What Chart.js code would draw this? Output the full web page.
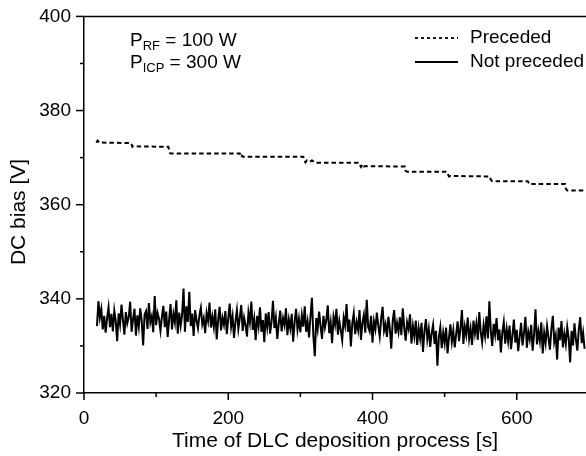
<!DOCTYPE html>
<html>
<head>
<meta charset="utf-8">
<script src="https://cdn.jsdelivr.net/npm/chart.js@4.4.1/dist/chart.umd.min.js"></script>
<style>
  body { margin: 0; background: #fff; }
  #wrap { width: 586px; height: 456px; }
</style>
</head>
<body>
<div id="wrap"><canvas id="grafico" width="586" height="456"></canvas></div>
<script>
// "Preceded" series: stepwise drift of the bias (time [s], bias [V])
const precededTime = [17, 19, 21, 65, 66, 67, 68, 117, 118, 119, 120, 216, 217, 218, 219, 220,
  304, 305, 307, 309, 313, 316, 320, 322, 381, 382, 384, 386, 388, 390, 445, 446, 448,
  503, 504, 506, 508, 563, 564, 566, 615, 616, 618, 620, 667, 668, 670, 696];
const precededBias = [373.2, 373.6, 373.2, 373.1, 372.8, 372.3, 372.4, 372.3, 371.6, 371.0, 370.9, 370.9, 370.5, 370.1, 370.4, 370.2,
  370.2, 369.6, 369.0, 369.4, 369.1, 369.4, 369.0, 368.9, 368.9, 368.5, 368.0, 368.6, 368.1, 368.2, 368.1, 367.2, 367.0,
  367.0, 366.6, 366.0, 366.1, 366.0, 365.3, 365.0, 365.0, 364.8, 364.3, 364.4, 364.4, 363.4, 363.0, 363.0];

// "Not preceded" series: one reading every 2 s starting at 18 s
const notPrecededStart = 18;
const notPrecededStep = 2;
const notPrecededBias = [
  334.2, 339.5, 336.0, 337.8, 333.5, 336.4, 332.8, 335.9, 338.2, 334.0,
  336.8, 333.1, 337.5, 335.2, 331.0, 336.9, 334.6, 338.8, 335.5, 332.4,
  337.2, 334.8, 336.1, 339.4, 333.0, 335.7, 337.9, 332.2, 336.5, 334.1,
  338.0, 335.3, 330.1, 336.7, 337.4, 333.6, 339.1, 335.0, 336.3, 332.9,
  340.6, 334.4, 337.0, 335.8, 333.2, 336.1, 338.5, 334.0, 337.3, 331.9,
  335.6, 338.9, 333.5, 336.8, 335.0, 339.7, 332.6, 337.1, 334.3, 336.6,
  342.2, 333.0, 338.4, 335.1, 341.5, 334.2, 336.9, 332.1, 337.6, 335.4,
  333.8, 336.5, 338.1, 334.6, 335.9, 332.7, 337.0, 335.3, 339.2, 333.9,
  336.2, 334.0, 337.8, 331.4, 335.6, 338.3, 333.3, 336.0, 334.5, 337.4,
  332.5, 335.8, 339.0, 334.1, 336.3, 331.7, 335.2, 337.6, 333.6, 335.9,
  338.7, 333.2, 336.0, 334.4, 332.0, 337.1, 335.0, 339.4, 333.4, 335.7,
  331.2, 336.4, 334.2, 338.2, 333.0, 335.5, 330.8, 336.9, 334.0, 337.2,
  332.6, 335.1, 339.6, 333.8, 336.0, 331.5, 334.7, 337.5, 333.1, 335.9,
  334.4, 338.0, 332.3, 335.6, 333.7, 336.8, 330.9, 335.0, 337.9, 333.5,
  335.8, 332.9, 336.5, 334.1, 338.4, 333.0, 335.2, 331.8, 336.3, 340.2,
  332.1, 327.8, 335.9, 333.6, 337.3, 334.2, 331.5, 336.4, 333.9, 335.5,
  338.6, 332.7, 335.0, 330.6, 336.2, 334.5, 337.9, 332.4, 335.3, 333.3,
  331.2, 336.0, 334.3, 338.9, 333.0, 335.6, 329.9, 334.8, 336.9, 332.5,
  335.1, 333.4, 337.6, 331.3, 334.9, 336.6, 332.8, 339.8, 334.0, 333.1,
  336.4, 330.7, 335.2, 333.5, 337.1, 334.3, 332.0, 335.8, 338.3, 333.2,
  334.6, 331.9, 336.2, 333.7, 329.4, 335.3, 337.6, 332.6, 334.9, 333.0,
  336.1, 332.3, 338.0, 333.8, 331.1, 335.0, 333.6, 336.7, 330.5, 334.2,
  332.0, 335.4, 330.2, 333.8, 331.6, 334.9, 328.7, 333.1, 335.7, 331.4,
  333.6, 329.8, 332.7, 334.5, 330.4, 333.2, 325.8, 331.9, 334.0, 329.5,
  332.8, 330.6, 333.9, 328.4, 331.7, 334.6, 330.9, 333.3, 329.7, 332.5,
  335.2, 331.0, 333.8, 337.6, 330.4, 334.1, 332.3, 336.0, 331.5, 333.7,
  330.2, 335.4, 332.6, 334.8, 331.3, 337.2, 333.0, 330.8, 334.4, 332.1,
  336.3, 331.6, 339.5, 333.2, 330.0, 334.7, 332.4, 335.9, 331.2, 333.5,
  328.6, 332.9, 335.1, 330.5, 333.6, 331.0, 334.3, 329.3, 332.2, 335.6,
  330.7, 333.4, 328.9, 331.8, 334.9, 330.1, 332.7, 336.2, 329.6, 333.0,
  331.4, 334.5, 329.0, 332.5, 337.8, 330.3, 333.1, 331.0, 335.0, 328.4,
  332.8, 330.6, 334.2, 331.7, 329.2, 333.6, 336.4, 330.8, 332.3, 327.1,
  333.9, 331.2, 335.3, 329.7, 332.6, 330.4, 334.0, 331.6, 326.5, 333.2,
  330.1, 334.8, 331.4, 329.0, 333.5, 336.1, 330.6, 332.8, 329.4
];

// eixos: ticks maiores (com rótulo) e menores
const xTicks = [0, 100, 200, 300, 400, 500, 600];
const xTickLabels = [0, 200, 400, 600];
const yTicks = [320, 330, 340, 350, 360, 370, 380, 390, 400];
const yTickLabels = [320, 340, 360, 380, 400];
const seriesNames = ['Preceded', 'Not preceded'];
const yTitulo = 'DC bias [V]';

const fonte = 'Arial, "Liberation Sans", sans-serif';

const dadosPreceded = precededTime.map((t, i) => ({ x: t, y: precededBias[i] }));
const dadosNotPreceded = notPrecededBias.map((v, i) => ({ x: notPrecededStart + i * notPrecededStep, y: v }));

// desenha texto com subscrito: P_RF = 100 W
function textoSub(ctx, base, sub, resto, x, y) {
  ctx.font = '19px ' + fonte;
  ctx.fillText(base, x, y);
  x += ctx.measureText(base).width;
  ctx.font = '13px ' + fonte;
  ctx.fillText(sub, x, y + 4);
  x += ctx.measureText(sub).width;
  ctx.font = '19px ' + fonte;
  ctx.fillText(resto, x, y);
}

const decoracao = {
  id: 'decoracao',
  afterDraw(chart) {
    const ctx = chart.ctx;
    const area = chart.chartArea;
    const sx = chart.scales.x;
    const sy = chart.scales.y;
    ctx.save();
    ctx.strokeStyle = '#000';
    ctx.lineWidth = 1.5;

    // moldura superior
    ctx.beginPath();
    ctx.moveTo(area.left, area.top);
    ctx.lineTo(area.right, area.top);
    ctx.stroke();

    // ticks para fora (maiores e menores)
    xTicks.forEach(v => {
      const px = sx.getPixelForValue(v);
      const len = xTickLabels.includes(v) ? 7 : 4;
      ctx.beginPath();
      ctx.moveTo(px, area.bottom);
      ctx.lineTo(px, area.bottom + len);
      ctx.stroke();
    });
    yTicks.forEach(v => {
      const py = sy.getPixelForValue(v);
      const len = yTickLabels.includes(v) ? 8 : 4;
      ctx.beginPath();
      ctx.moveTo(area.left, py);
      ctx.lineTo(area.left - len, py);
      ctx.stroke();
    });

    ctx.fillStyle = '#000';

    // título do eixo y
    ctx.save();
    ctx.translate(19, 212);
    ctx.rotate(-Math.PI / 2);
    ctx.font = '21px ' + fonte;
    ctx.textAlign = 'center';
    ctx.textBaseline = 'middle';
    ctx.fillText(yTitulo, 0, 0);
    ctx.restore();

    // anotação
    ctx.textBaseline = 'alphabetic';
    ctx.textAlign = 'left';
    textoSub(ctx, 'P', 'RF', ' = 100 W', 130, 46);
    textoSub(ctx, 'P', 'ICP', ' = 300 W', 130, 68);

    // legenda
    ctx.lineWidth = 1.8;
    ctx.setLineDash([3, 3]);
    ctx.beginPath();
    ctx.moveTo(415, 38);
    ctx.lineTo(458, 38);
    ctx.stroke();
    ctx.setLineDash([]);
    ctx.lineWidth = 2;
    ctx.beginPath();
    ctx.moveTo(415, 62);
    ctx.lineTo(458, 62);
    ctx.stroke();
    ctx.font = '19px ' + fonte;
    ctx.textBaseline = 'middle';
    ctx.fillText(seriesNames[0], 470, 38);
    ctx.fillText(seriesNames[1], 470, 62);
    ctx.restore();
  }
};

const ctx = document.getElementById('grafico').getContext('2d');
const meuGrafico = new Chart(ctx, {
  type: 'line',
  data: {
    datasets: [
      {
        label: seriesNames[0],
        data: dadosPreceded,
        borderColor: '#000',
        borderWidth: 2,
        borderDash: [4.5, 3],
        pointRadius: 0,
        tension: 0,
        fill: false
      },
      {
        label: seriesNames[1],
        data: dadosNotPreceded,
        borderColor: '#000',
        borderWidth: 2,
        pointRadius: 0,
        tension: 0,
        fill: false
      }
    ]
  },
  options: {
    responsive: false,
    animation: false,
    layout: { padding: { top: 14, right: 0, left: 0, bottom: 0 } },
    plugins: {
      legend: { display: false },
      tooltip: { enabled: false }
    },
    scales: {
      x: {
        type: 'linear',
        min: 0,
        max: 696,
        afterBuildTicks: s => { s.ticks = xTicks.map(v => ({ value: v })); },
        afterFit: s => { s.height = 63; },
        border: { display: true, color: '#000', width: 1.5 },
        grid: { display: true, drawOnChartArea: false, drawTicks: true, tickLength: 7, tickColor: 'rgba(0,0,0,0)' },
        ticks: {
          autoSkip: false,
          maxRotation: 0,
          padding: 7,
          color: '#000',
          font: { family: fonte, size: 19 },
          callback: v => xTickLabels.includes(v) ? String(v) : ''
        },
        title: {
          display: true,
          text: 'Time of DLC deposition process [s]',
          color: '#000',
          font: { family: fonte, size: 21 },
          padding: { top: 0, bottom: 2 }
        }
      },
      y: {
        min: 320,
        max: 400,
        afterBuildTicks: s => { s.ticks = yTicks.map(v => ({ value: v })); },
        afterFit: s => { s.width = 84; },
        border: { display: true, color: '#000', width: 1.5 },
        grid: { display: true, drawOnChartArea: false, drawTicks: true, tickLength: 8, tickColor: 'rgba(0,0,0,0)' },
        ticks: {
          autoSkip: false,
          padding: 5,
          color: '#000',
          font: { family: fonte, size: 19 },
          callback: v => yTickLabels.includes(v) ? String(v) : ''
        },
        title: { display: false }
      }
    }
  },
  plugins: [decoracao]
});
</script>
</body>
</html>
